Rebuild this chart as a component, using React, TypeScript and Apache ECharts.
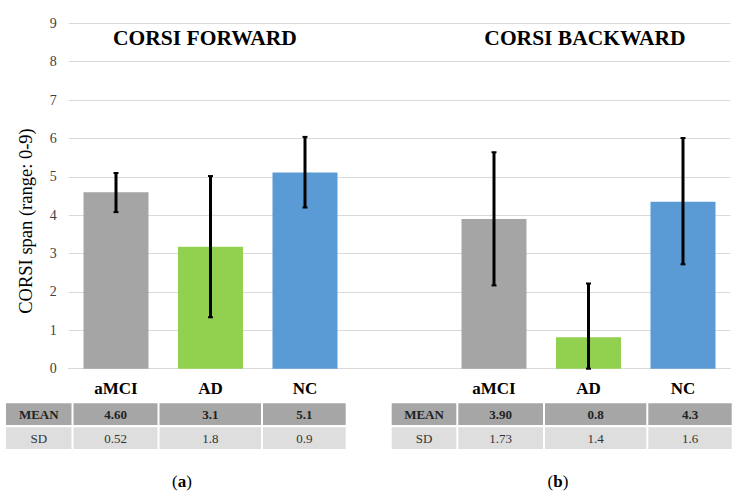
import React, { useEffect, useRef } from "react";
import * as echarts from "echarts";

const categories = ["aMCI", "AD", "NC", "", "aMCI", "AD", "NC"];
const groupColors = ["#A5A5A5", "#92D050", "#5B9BD5"];
const forwardMeans = [4.6, 3.18, 5.11];
const backwardMeans = [3.9, 0.82, 4.35];
const forwardErrLow = [4.08, 1.34, 4.2];
const forwardErrHigh = [5.1, 5.02, 6.04];
const backwardErrLow = [2.17, 0, 2.72];
const backwardErrHigh = [5.64, 2.22, 6.01];
const yTicks = [0, 1, 2, 3, 4, 5, 6, 7, 8, 9];
const panelTitles = ["CORSI FORWARD", "CORSI BACKWARD"];
const panelCaptions = ["a", "b"];
const rowLabels = ["MEAN", "SD"];
const forwardTableMean = ["4.60", "3.1", "5.1"];
const forwardTableSD = ["0.52", "1.8", "0.9"];
const backwardTableMean = ["3.90", "0.8", "4.3"];
const backwardTableSD = ["1.73", "1.4", "1.6"];
const yAxisName = "CORSI span (range: 0-9)";

const SERIF = "Liberation Serif, Times New Roman, serif";

export default function App() {
  const ref = useRef<HTMLDivElement>(null);
  useEffect(() => {
    if (!ref.current) return;
    const chart = echarts.init(ref.current, null, { renderer: "svg" });

    const barData: any[] = [];
    forwardMeans.forEach((v, i) => barData.push({ value: v, itemStyle: { color: groupColors[i] } }));
    barData.push("-");
    backwardMeans.forEach((v, i) => barData.push({ value: v, itemStyle: { color: groupColors[i] } }));

    const errData: any[] = [];
    forwardErrLow.forEach((lo, i) => errData.push([i, lo, forwardErrHigh[i]]));
    backwardErrLow.forEach((lo, i) => errData.push([i + 4, lo, backwardErrHigh[i]]));

    const tables = [
      { x: [6, 72.5, 158.5, 262, 346.7], mean: forwardTableMean, sd: forwardTableSD },
      { x: [391.7, 457.3, 544, 647.3, 732.7], mean: backwardTableMean, sd: backwardTableSD },
    ];
    const rowsY = [403.3, 427.3];
    const rowH = 21.7;
    const rowColors = ["#A6A6A6", "#DEDEDE"];
    const graphics: any[] = [];
    tables.forEach((t) => {
      rowsY.forEach((ry, r) => {
        const vals = [rowLabels[r], ...(r === 0 ? t.mean : t.sd)];
        for (let c = 0; c < 4; c++) {
          const x0 = t.x[c] + (c === 0 ? 0 : 1);
          const x1 = t.x[c + 1] - 1;
          graphics.push({
            type: "rect",
            shape: { x: x0, y: ry, width: x1 - x0, height: rowH },
            style: { fill: rowColors[r] },
          });
          graphics.push({
            type: "text",
            x: (x0 + x1) / 2,
            y: ry + rowH / 2 + 0.5,
            style: {
              text: vals[c],
              align: "center",
              verticalAlign: "middle",
              fontFamily: SERIF,
              fontSize: 13,
              fontWeight: r === 0 ? "bold" : "normal",
              fill: r === 0 ? "#222" : "#333",
            },
          });
        }
      });
    });
    const titleX = [205, 585];
    panelTitles.forEach((t, i) => {
      graphics.push({
        type: "text",
        x: titleX[i],
        y: 38,
        style: {
          text: t,
          align: "center",
          verticalAlign: "middle",
          fontFamily: SERIF,
          fontSize: 21.5,
          fontWeight: "bold",
          fill: "#000",
        },
      });
    });
    const capX = [182, 558];
    panelCaptions.forEach((c, i) => {
      graphics.push({
        type: "text",
        x: capX[i],
        y: 481,
        style: {
          text: "({b|" + c + "})",
          align: "center",
          verticalAlign: "middle",
          fontFamily: SERIF,
          fontSize: 17,
          fill: "#000",
          rich: {
            b: { fontFamily: SERIF, fontSize: 17, fontWeight: "bold", fill: "#000" },
          },
        },
      });
    });
    graphics.push({
      type: "text",
      x: 26,
      y: 221,
      rotation: Math.PI / 2,
      style: {
        text: yAxisName,
        align: "center",
        verticalAlign: "middle",
        fontFamily: SERIF,
        fontSize: 18.5,
        fill: "#000",
      },
    });

    chart.setOption({
      animation: false,
      backgroundColor: "#fff",
      grid: { left: 68.75, right: 11.75, top: 23.3, bottom: 130.3, containLabel: false },
      xAxis: {
        type: "category",
        data: categories,
        axisLine: { show: true, lineStyle: { color: "#D9D9D9", width: 1 } },
        axisTick: { show: false },
        axisLabel: {
          margin: 11,
          fontFamily: SERIF,
          fontSize: 17,
          fontWeight: "bold",
          color: "#000",
        },
      },
      yAxis: {
        type: "value",
        min: yTicks[0],
        max: yTicks[yTicks.length - 1],
        interval: 1,
        axisLine: { show: false },
        axisTick: { show: false },
        axisLabel: { margin: 12, fontFamily: SERIF, fontSize: 14, color: "#404040" },
        splitLine: { lineStyle: { color: "#D9D9D9", width: 1 } },
      },
      series: [
        {
          type: "bar",
          data: barData,
          barWidth: 65,
          z: 2,
        },
        {
          type: "custom",
          data: errData,
          encode: { x: 0, y: [1, 2] },
          z: 5,
          renderItem: (params: any, api: any) => {
            const xi = api.value(0);
            const lo = api.coord([xi, api.value(1)]);
            const hi = api.coord([xi, api.value(2)]);
            const cw = 2.5;
            return {
              type: "group",
              children: [
                {
                  type: "line",
                  shape: { x1: lo[0], y1: lo[1], x2: hi[0], y2: hi[1] },
                  style: { stroke: "#000", lineWidth: 3 },
                },
                {
                  type: "line",
                  shape: { x1: hi[0] - cw, y1: hi[1], x2: hi[0] + cw, y2: hi[1] },
                  style: { stroke: "#000", lineWidth: 2 },
                },
                {
                  type: "line",
                  shape: { x1: lo[0] - cw, y1: lo[1], x2: lo[0] + cw, y2: lo[1] },
                  style: { stroke: "#000", lineWidth: 2 },
                },
              ],
            };
          },
        },
      ],
      graphic: graphics,
    });
    return () => chart.dispose();
  }, []);
  return (
    <div
      ref={ref}
      style={{ position: "absolute", left: 0, top: 0, width: 742, height: 499 }}
    />
  );
}
